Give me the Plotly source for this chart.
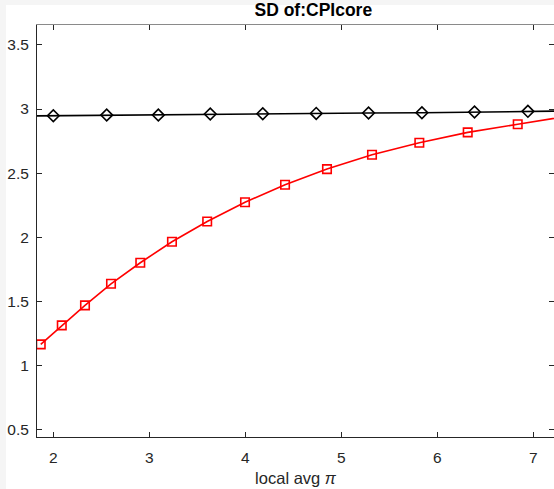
import plotly.graph_objects as go

# Standard deviation of core CPI against the local average inflation rate
x_black = [1.45, 2.0, 2.556, 3.094, 3.635, 4.182, 4.739, 5.284, 5.840, 6.388, 6.944, 7.49]
y_black = [2.944, 2.948, 2.953, 2.953, 2.961, 2.963, 2.966, 2.969, 2.971, 2.977, 2.982, 2.986]

x_red = [1.869, 2.088, 2.330, 2.601, 2.906, 3.236, 3.603, 3.997, 4.414, 4.851,
         5.320, 5.813, 6.317, 6.838, 7.36]
y_red = [1.166, 1.314, 1.470, 1.638, 1.802, 1.966, 2.123, 2.273, 2.410, 2.532,
         2.644, 2.737, 2.818, 2.881, 2.945]

x_ticks = [2, 3, 4, 5, 6, 7]
y_ticks = [0.5, 1, 1.5, 2, 2.5, 3, 3.5]

x_range = [1.830, 7.216]
y_range = [0.444, 3.655]

title_text = "<b>SD of:CPIcore</b>"
xlabel_text = "local avg <i>π</i>"

AX = "#262626"
FONT = "Liberation Sans, Arial, Helvetica, sans-serif"

fig = go.Figure()
fig.add_trace(go.Scatter(
    x=x_black, y=y_black, mode="lines+markers",
    line=dict(color="black", width=1.6),
    marker=dict(symbol="diamond-open", size=9, color="black",
                line=dict(color="black", width=1.6)),
    showlegend=False, hoverinfo="skip",
))
fig.add_trace(go.Scatter(
    x=x_red, y=y_red, mode="lines+markers",
    line=dict(color="#ff0000", width=1.6),
    marker=dict(symbol="square-open", size=8.5, color="#ff0000",
                line=dict(color="#ff0000", width=1.6)),
    showlegend=False, hoverinfo="skip",
))
# empty trace that carries the top/right box axes
fig.add_trace(go.Scatter(x=[], y=[], xaxis="x2", yaxis="y2",
                         showlegend=False, hoverinfo="skip"))

common = dict(showgrid=False, zeroline=False, ticks="inside", ticklen=5,
              tickwidth=1, tickcolor=AX)

fig.update_layout(
    width=554, height=489,
    margin=dict(l=37, r=0, t=25, b=52),
    paper_bgcolor="#f5f5f5",
    plot_bgcolor="white",
    font=dict(family=FONT, color=AX, size=15.5),
    title=dict(text=title_text, x=0.5345, xanchor="center", xref="paper",
               y=1, yref="container", yanchor="top", pad=dict(t=4),
               font=dict(size=17.5, color="black", family=FONT)),
    xaxis=dict(range=x_range, tickvals=x_ticks, showline=True, linecolor=AX,
               linewidth=1, ticklabelstandoff=6,
               title=dict(text=xlabel_text, font=dict(size=16.5, color=AX),
                          standoff=7),
               **common),
    yaxis=dict(range=y_range, tickvals=y_ticks, showline=True, linecolor=AX,
               linewidth=1, ticklabelstandoff=4, **common),
    xaxis2=dict(range=x_range, tickvals=x_ticks, overlaying="x", side="top",
                anchor="y2", showticklabels=False, showline=True,
                linecolor="#8a8a8a", linewidth=1, **common),
    yaxis2=dict(range=y_range, tickvals=y_ticks, overlaying="y", side="right",
                anchor="x2", showticklabels=False, showline=False, **common),
    shapes=[dict(type="rect", xref="paper", yref="paper", layer="below",
                 x0=-0.06, x1=1.0, y0=-0.2, y1=1.0 + 20 / 412,
                 fillcolor="white", line=dict(width=0))],
)

fig.write_html("out.html")
